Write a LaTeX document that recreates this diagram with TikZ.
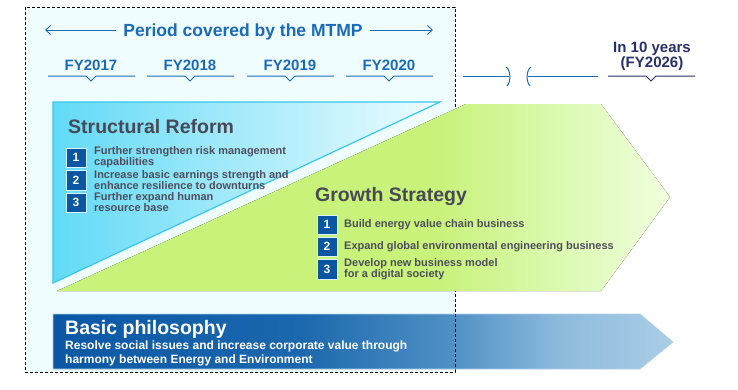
\documentclass[tikz,border=0pt]{standalone}
\usepackage{fontspec}
\setmainfont{Liberation Sans}
\usetikzlibrary{arrows.meta,positioning}

\definecolor{mtmpblue}{RGB}{27,106,184}
\definecolor{navytext}{RGB}{37,48,106}
\definecolor{headgray}{RGB}{72,72,86}
\definecolor{itemgray}{RGB}{78,78,92}
\definecolor{bgcyan}{RGB}{239,253,254}
\definecolor{boxblue}{RGB}{10,86,162}
\definecolor{reformcyan}{RGB}{98,218,246}
\definecolor{reformlight}{RGB}{238,252,255}
\definecolor{reformedge}{RGB}{55,200,240}
\definecolor{growthgreen}{RGB}{200,242,122}
\definecolor{growthmid}{RGB}{222,250,182}
\definecolor{growthlight}{RGB}{240,255,222}
\definecolor{philodark}{RGB}{10,88,165}
\definecolor{philoA}{RGB}{28,104,174}
\definecolor{philoB}{RGB}{78,144,196}
\definecolor{philoC}{RGB}{142,187,221}
\definecolor{philolight}{RGB}{170,205,230}

% colour runs, 25bp = left edge, 75bp = right edge
\pgfdeclarehorizontalshading{growthfade}{100bp}{color(0bp)=(growthgreen); color(25bp)=(growthgreen); color(56bp)=(growthgreen); color(67bp)=(growthmid); color(75bp)=(growthlight); color(100bp)=(growthlight)}
\pgfdeclarehorizontalshading{philofade}{100bp}{color(0bp)=(philodark); color(25bp)=(philodark); color(45bp)=(philoA); color(57bp)=(philoB); color(66bp)=(philoC); color(75bp)=(philolight); color(100bp)=(philolight)}

\tikzset{
  periodtext/.style={font=\fontsize{17.5}{20}\selectfont\bfseries, text=mtmpblue, inner sep=0pt},
  periodarrow/.style={mtmpblue, line width=0.9pt, -{Straight Barb[length=5pt,width=9pt]}},
  fylabel/.style={font=\fontsize{15}{17}\selectfont\bfseries, text=mtmpblue, inner sep=0pt},
  fyline/.style={mtmpblue, line width=1pt},
  navylabel/.style={font=\fontsize{15}{17}\selectfont\bfseries, text=navytext, inner sep=0pt},
  heading/.style={font=\fontsize{19.5}{22}\selectfont\bfseries, text=headgray, inner sep=0pt},
  numbox/.style={fill=boxblue, draw=cyan!15, line width=0.5pt, minimum size=19.5pt, inner sep=0pt,
    text=white, font=\fontsize{12}{12}\selectfont\bfseries},
  itemtext/.style={font=\fontsize{11}{11}\selectfont\bfseries, text=itemgray, inner sep=0pt, align=left},
  philotext/.style={text=white, inner sep=0pt, align=left}
}

\begin{document}
\begin{tikzpicture}[x=1pt,y=-1pt]
        \useasboundingbox (0,0) rectangle (738,389);
        % Draw the period frame
        \fill[bgcyan] (25,7) rectangle (455,372);
        \draw[line width=0.8pt,dash pattern=on 3pt off 2pt] (25,7) rectangle (455,372);
        % Draw the growth arrow
        \fill[shading=growthfade] (57,291) -- (466,104) -- (601,104) -- (670,197) -- (601,291) -- cycle;
        % Draw the reform triangle
        \draw[reformedge, line width=1.2pt, left color=reformcyan, right color=reformlight] (53,102) -- (440,102) -- (53,283) -- cycle;
        % Draw the basic philosophy arrow
        \draw[philoC!70!white, line width=0.6pt, shading=philofade] (53,314) -- (640,314) -- (673,342) -- (640,369) -- (53,369) -- cycle;
        \coordinate (frameA) at (455,314);
        \coordinate (frameB) at (455,369);
        \draw[line width=0.8pt,dash pattern=on 3pt off 2pt] (frameA) -- (frameB);

        % Period covered text with arrows
        \node[periodtext, anchor=base] (period) at (243,36) {Period covered by the MTMP};
        \coordinate (periodL) at (45,30);
        \coordinate (periodR) at (433,30);
        \draw[periodarrow] (period.west |- periodL) ++(-7,0) -- (periodL);
        \draw[periodarrow] (period.east |- periodR) ++(7,0) -- (periodR);

        % Fiscal years
        \node[fylabel, anchor=base] (fy17) at (91,70) {FY2017};
        \node[fylabel, anchor=base] (fy18) at (190,70) {FY2018};
        \node[fylabel, anchor=base] (fy19) at (290,70) {FY2019};
        \node[fylabel, anchor=base] (fy20) at (389,70) {FY2020};
        \draw[fyline] (48,76) -- ++(38,0) -- ++(5,5) -- ++(5,-5) -- ++(39,0);
        \draw[fyline] (147,76) -- ++(38,0) -- ++(5,5) -- ++(5,-5) -- ++(39,0);
        \draw[fyline] (247,76) -- ++(38,0) -- ++(5,5) -- ++(5,-5) -- ++(39,0);
        \draw[fyline] (346,76) -- ++(38,0) -- ++(5,5) -- ++(5,-5) -- ++(39,0);

        % Time skip and ten years
        \draw[fyline] (463,76) -- (509,76);
        \draw[fyline] (506,67) .. controls (511,70) and (511,82) .. (507,86);
        \draw[fyline] (531,67) .. controls (526,70) and (526,82) .. (530,86);
        \draw[fyline] (528,76) -- (598,76);
        \node[navylabel, anchor=base] (tenyears) at (652,52) {In 10 years};
        \node[navylabel, anchor=base] (fy26) at (652,67) {(FY2026)};
        \draw[navytext, line width=1pt] (608,76) -- ++(38,0) -- ++(5,5) -- ++(5,-5) -- ++(39,0);

        % Structural reform
        \node[heading, anchor=base west] (reform) at (68,133) {Structural Reform};
        \node[numbox] (r1) at (76,157.5) {1};
        \node[numbox] (r2) at (76,180) {2};
        \node[numbox] (r3) at (76,202.5) {3};
        \node[itemtext, right=8pt of r1] (r1text) {Further strengthen risk management\\capabilities};
        \node[itemtext, right=8pt of r2] (r2text) {Increase basic earnings strength and\\enhance resilience to downturns};
        \node[itemtext, right=8pt of r3] (r3text) {Further expand human\\resource base};

        % Growth strategy
        \node[heading, anchor=base west] (growth) at (315,201) {Growth Strategy};
        \node[numbox] (g1) at (327,224.5) {1};
        \node[numbox] (g2) at (327,246.5) {2};
        \node[numbox] (g3) at (327,269) {3};
        \node[itemtext, right=7pt of g1] (g1text) {Build energy value chain business};
        \node[itemtext, right=7pt of g2] (g2text) {Expand global environmental engineering business};
        \node[itemtext, right=7pt of g3] (g3text) {Develop new business model\\for a digital society};

        % Basic philosophy
        \node[philotext, heading, text=white, anchor=base west] (philo) at (65,334) {Basic philosophy};
        \node[philotext, font=\fontsize{12}{14}\selectfont\bfseries, anchor=north west] (philotext) at (65,340.2)
            {Resolve social issues and increase corporate value through\\harmony between Energy and Environment};
    \end{tikzpicture}
\end{document}
